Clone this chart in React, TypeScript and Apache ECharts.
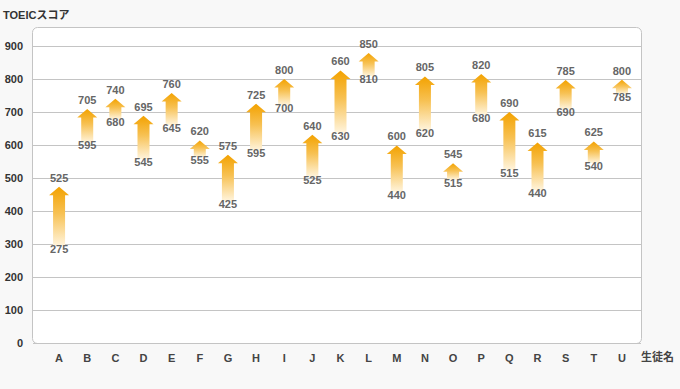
import React, { useEffect, useRef } from "react";
import * as echarts from "echarts";

// Students (x categories)
const students = ["A","B","C","D","E","F","G","H","I","J","K","L","M","N","O","P","Q","R","S","T","U"];
// Score labels shown on the chart
const scoreBefore = [275,595,680,545,645,555,425,595,700,525,630,810,440,620,515,680,515,440,690,540,785];
const scoreAfter  = [525,705,740,695,760,620,575,725,800,640,660,850,600,805,545,820,690,615,785,625,800];
// Arrow positions as drawn in the picture (tip value and base value)
const arrowTip  = [474,709,740,689,758,614,571,725,800,631,826,879,599,808,545,815,700,608,797,611,798];
const arrowBase = [286,599,670,549,652,555,422,575,712,495,629,800,450,636,486,683,516,455,700,537,746];
// Y-axis ticks
const yMin = 0;
const yMax = 900;
const yStep = 100;

const FONT = '"Liberation Sans", Arial, "Noto Sans CJK JP", sans-serif';

export default function App() {
  const ref = useRef<HTMLDivElement>(null);
  useEffect(() => {
    if (!ref.current) return;
    const chart = echarts.init(ref.current, null, { renderer: "svg" });
    const data = students.map((_, i) => [i, arrowTip[i], arrowBase[i], scoreAfter[i], scoreBefore[i]]);
    const option: any = {
      animation: false,
      backgroundColor: "#f8f8f8",
      title: {
        text: "TOEICスコア",
        left: 3,
        top: 9,
        padding: 0,
        textStyle: { fontSize: 11, fontWeight: "bold", color: "#333", fontFamily: FONT },
      },
      graphic: [
        {
          type: "rect",
          z: -10,
          shape: { x: 32.5, y: 27.5, width: 609, height: 316, r: 5 },
          style: { fill: "#ffffff", stroke: "#c4c4c4", lineWidth: 1 },
        },
        {
          type: "text",
          left: 641,
          top: 351,
          style: { text: "生徒名", fill: "#444", font: `bold 11px ${FONT}` },
        },
      ],
      grid: [
        { left: 33, right: 39, top: 46, bottom: 45.7 },
        { left: 45, right: 44, top: 46, bottom: 45.7 },
      ],
      xAxis: [
        { gridIndex: 0, type: "category", data: students, show: false },
        {
          gridIndex: 1,
          type: "category",
          data: students,
          axisLine: { show: false },
          axisTick: { show: false },
          axisLabel: { color: "#444", fontSize: 11, fontWeight: "bold", fontFamily: FONT, margin: 9 },
        },
      ],
      yAxis: [
        {
          gridIndex: 0,
          type: "value",
          min: yMin,
          max: yMax,
          interval: yStep,
          axisLine: { show: false },
          axisTick: { show: false },
          axisLabel: { color: "#333", fontSize: 11, fontWeight: "bold", fontFamily: FONT, margin: 10 },
          splitLine: { lineStyle: { color: "#c4c4c4", width: 1 } },
        },
        { gridIndex: 1, type: "value", min: yMin, max: yMax, interval: yStep, show: false, splitLine: { show: false } },
      ],
      series: [
        {
          type: "custom",
          xAxisIndex: 1,
          yAxisIndex: 1,
          clip: false,
          encode: { x: 0, y: [1, 2] },
          data,
          renderItem: (params: any, api: any) => {
            const idx = api.value(0);
            const tip = api.coord([idx, api.value(1)]);
            const base = api.coord([idx, api.value(2)]);
            const cx = tip[0];
            const yt = tip[1];
            const headH = 8.5;
            const headW = 10;
            const shaftW = 6;
            const yb = Math.max(base[1] - 3, yt + headH + 1);
            const poly = [
              [cx, yt],
              [cx + headW, yt + headH],
              [cx + shaftW, yt + headH],
              [cx + shaftW, yb],
              [cx - shaftW, yb],
              [cx - shaftW, yt + headH],
              [cx - headW, yt + headH],
            ];
            return {
              type: "group",
              children: [
                {
                  type: "polygon",
                  shape: { points: poly },
                  style: {
                    fill: new echarts.graphic.LinearGradient(0, 0, 0, 1, [
                      { offset: 0, color: "#f3a200" },
                      { offset: 0.45, color: "#f7c153" },
                      { offset: 1, color: "#fff4dc" },
                    ]),
                  },
                },
                {
                  type: "text",
                  style: {
                    text: String(api.value(3)),
                    x: cx,
                    y: yt - 9,
                    align: "center",
                    verticalAlign: "middle",
                    fill: "#666",
                    font: `bold 11px ${FONT}`,
                  },
                },
                {
                  type: "text",
                  style: {
                    text: String(api.value(4)),
                    x: cx,
                    y: base[1],
                    align: "center",
                    verticalAlign: "middle",
                    fill: "#666",
                    font: `bold 11px ${FONT}`,
                  },
                },
              ],
            };
          },
        },
      ],
    };
    chart.setOption(option);
    return () => chart.dispose();
  }, []);
  return <div ref={ref} style={{ position: "fixed", left: 0, top: 0, width: 680, height: 389 }} />;
}
